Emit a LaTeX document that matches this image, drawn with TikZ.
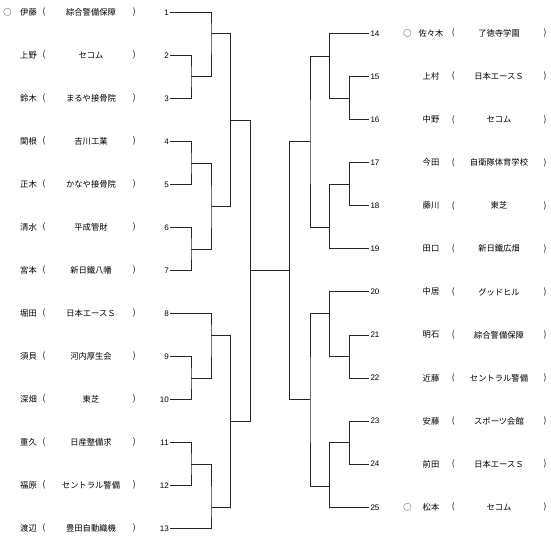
\documentclass[tikz,border=0pt]{standalone}
\usepackage{fontspec}
\setmainfont{Liberation Sans}
\newfontfamily\jp{Noto Sans CJK JP}

\begin{document}
\begin{tikzpicture}[x=1pt, y=-1pt,
    num/.style={font=\fontsize{8}{9}\selectfont, inner sep=1pt},
    txt/.style={font=\jp\fontsize{8.3}{10}\selectfont, inner sep=0pt},
    line/.style={draw=black!85, line width=0.7pt}
]
\useasboundingbox (0,0) rectangle (550,551);

% left block: number, name, club
\foreach \i/\nm/\co in {1/伊藤/綜合警備保障, 2/上野/セコム, 3/鈴木/まるや接骨院,
    4/関根/吉川工業, 5/正木/かなや接骨院, 6/清水/平成管財, 7/宮本/新日鐵八幡,
    8/堀田/日本エースＳ\hspace{16pt}, 9/須貝/河内厚生会, 10/深畑/東芝,
    11/重久/日産整備求, 12/福原/セントラル警備, 13/渡辺/豊田自動織機}{
  \pgfmathsetmacro{\yy}{12.3+43*(\i-1)}
  \node[num, anchor=east] (n\i) at (170,\yy) {\i};
  \node[txt] (nm\i) at (28.5,\yy) {\nm};
  \node[txt] (lp\i) at (44,\yy) {(};
  \node[txt] (co\i) at (91,\yy) {\co};
  \node[txt] (rp\i) at (134.3,\yy) {)};
}

% right block
\foreach \i/\nm/\co in {14/佐々木/了徳寺学園, 15/上村/日本エースＳ\hspace{16pt}, 16/中野/セコム,
    17/今田/自衛隊体育学校, 18/藤川/東芝, 19/田口/新日鐵広畑, 20/中居/グッドヒル,
    21/明石/綜合警備保障, 22/近藤/セントラル警備, 23/安藤/スポーツ会館,
    24/前田/日本エースＳ\hspace{16pt}, 25/松本/セコム}{
  \pgfmathsetmacro{\yy}{33.3+43.09*(\i-14)}
  \node[num, anchor=west] (n\i) at (369.3,\yy) {\i};
  \node[txt] (nm\i) at (431,\yy) {\nm};
  \node[txt] (lp\i) at (453.3,\yy) {(};
  \node[txt] (co\i) at (499,\yy) {\co};
  \node[txt] (rp\i) at (545,\yy) {)};
}

% seeds
\node[txt] (mk1) at (7.5,12.3) {○};
\node[txt] (mk14) at (407.5,33.3) {○};
\node[txt] (mk25) at (407.5,507.3) {○};

% junctions
\coordinate (j23) at (191,76.7);
\coordinate (j1) at (211,33.3);
\coordinate (j45) at (191,163.3);
\coordinate (j67) at (191,249);
\coordinate (j47) at (211,206.7);
\coordinate (jL1) at (230.7,120);
\coordinate (j910) at (191,378.3);
\coordinate (j8) at (211,335.7);
\coordinate (j1112) at (191,464.3);
\coordinate (j13) at (211,507.3);
\coordinate (jL2) at (230.7,421);
\coordinate (jL) at (250.7,270);
\coordinate (j1516) at (349.3,98.3);
\coordinate (j14) at (329.3,56);
\coordinate (j1718) at (349.3,184);
\coordinate (j19) at (329.3,227.7);
\coordinate (jR1) at (310,141.7);
\coordinate (j2122) at (349.3,356.7);
\coordinate (j20) at (329.3,313.3);
\coordinate (j2324) at (349.3,442.7);
\coordinate (j25) at (329.3,486);
\coordinate (jR2) at (310,399.3);
\coordinate (jR) at (289.3,270);

% left bracket
\draw[line] (n2.east) -| (j23) |- (n3.east);
\draw[line] (n1.east) -| (j1) |- (j23);
\draw[line] (n4.east) -| (j45) |- (n5.east);
\draw[line] (n6.east) -| (j67) |- (n7.east);
\draw[line] (j45) -| (j47) |- (j67);
\draw[line] (j1) -| (jL1) |- (j47);
\draw[line] (n9.east) -| (j910) |- (n10.east);
\draw[line] (n8.east) -| (j8) |- (j910);
\draw[line] (n11.east) -| (j1112) |- (n12.east);
\draw[line] (j1112) -| (j13) |- (n13.east);
\draw[line] (j8) -| (jL2) |- (j13);
\draw[line] (jL1) -| (jL) |- (jL2);

% right bracket
\draw[line] (n15.west) -| (j1516) |- (n16.west);
\draw[line] (n14.west) -| (j14) |- (j1516);
\draw[line] (n17.west) -| (j1718) |- (n18.west);
\draw[line] (j1718) -| (j19) |- (n19.west);
\draw[line] (j14) -| (jR1) |- (j19);
\draw[line] (n21.west) -| (j2122) |- (n22.west);
\draw[line] (n20.west) -| (j20) |- (j2122);
\draw[line] (n23.west) -| (j2324) |- (n24.west);
\draw[line] (j2324) -| (j25) |- (n25.west);
\draw[line] (j20) -| (jR2) |- (j25);
\draw[line] (jR1) -| (jR) |- (jR2);

% final
\draw[line] (jL) -- (jR);
\end{tikzpicture}
\end{document}
